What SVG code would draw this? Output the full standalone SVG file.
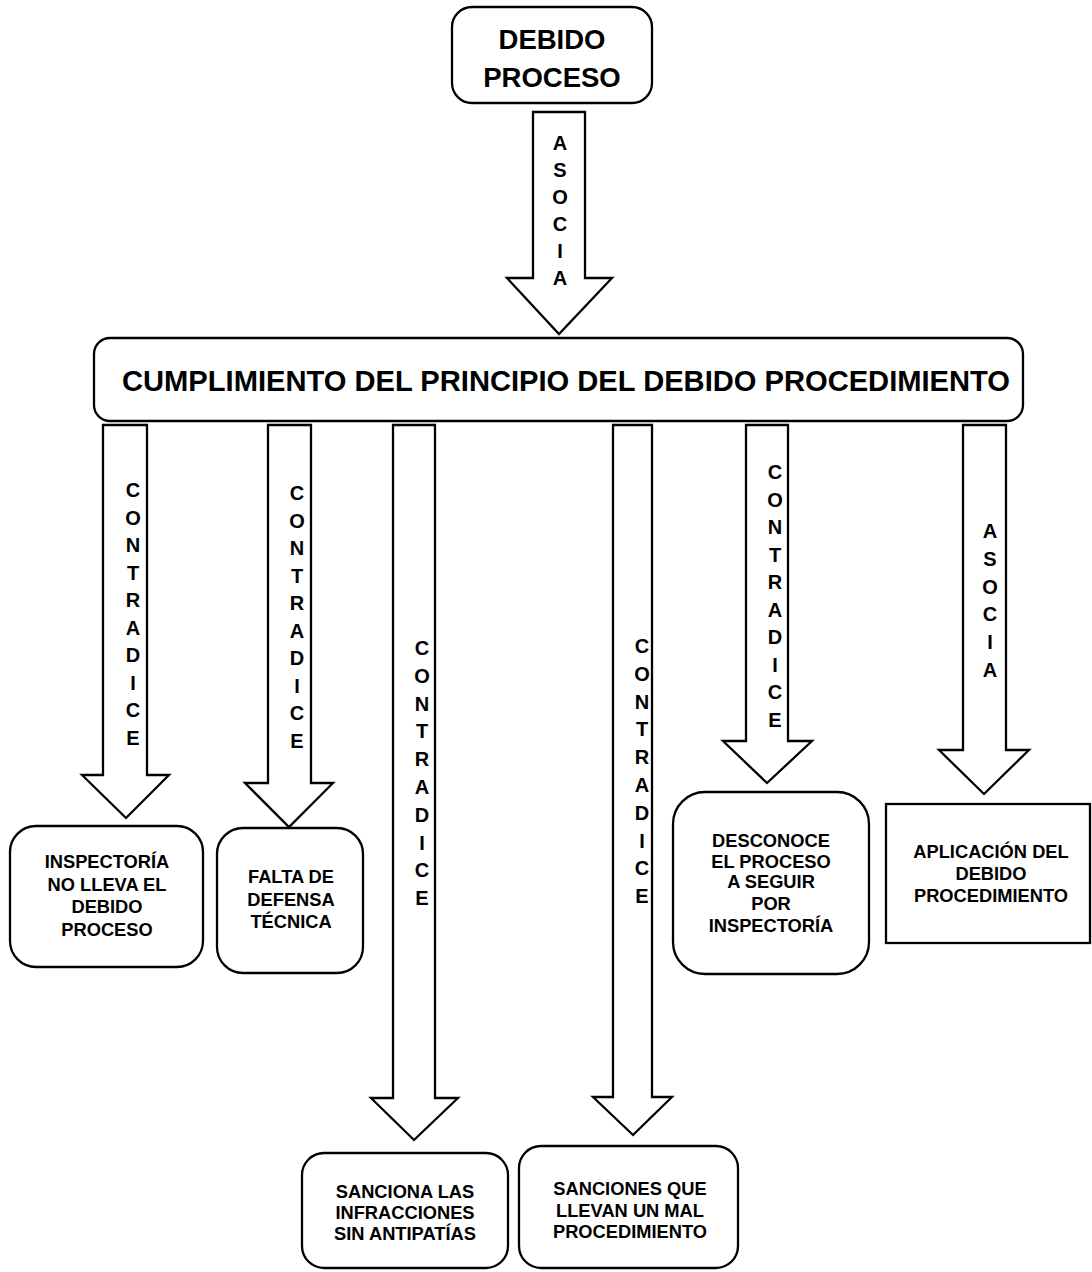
<svg xmlns="http://www.w3.org/2000/svg" width="1092" height="1272" viewBox="0 0 1092 1272">
<style>
.box{fill:#fff;stroke:#000;stroke-width:2.3}
.arr{fill:#fff;stroke:#000;stroke-width:2.3;stroke-linejoin:miter}
text{font-family:"Liberation Sans",Arial,sans-serif;font-weight:bold;fill:#000;text-anchor:middle}
.t{font-size:18.3px}
.v{font-size:20px}
</style>
<rect width="1092" height="1272" fill="#fff"/>
<g id="connectors">
<polygon class="arr" points="533,112 585,112 585,278 612,278 559,334 507,278 533,278"/>
<polygon class="arr" points="103,425 147,425 147,775 169,775 126,818 82,775 103,775"/>
<polygon class="arr" points="268,425 311,425 311,783 333,783 289,827 245,783 268,783"/>
<polygon class="arr" points="393,425 435,425 435,1098 458,1098 414,1140 371,1098 393,1098"/>
<polygon class="arr" points="613,425 652,425 652,1097 672,1097 633,1135 593,1097 613,1097"/>
<polygon class="arr" points="746,425 788,425 788,741 812,741 767,783 723,741 746,741"/>
<polygon class="arr" points="963,425 1006,425 1006,750 1029,750 984,794 939,750 963,750"/>
<text class="v"><tspan x="560" y="150">A</tspan><tspan x="560" y="177">S</tspan><tspan x="560" y="204">O</tspan><tspan x="560" y="231">C</tspan><tspan x="560" y="258">I</tspan><tspan x="560" y="285">A</tspan></text>
<text class="v"><tspan x="133" y="497">C</tspan><tspan x="133" y="524.5">O</tspan><tspan x="133" y="552">N</tspan><tspan x="133" y="579.5">T</tspan><tspan x="133" y="607">R</tspan><tspan x="133" y="634.5">A</tspan><tspan x="133" y="662">D</tspan><tspan x="133" y="689.5">I</tspan><tspan x="133" y="717">C</tspan><tspan x="133" y="744.5">E</tspan></text>
<text class="v"><tspan x="297" y="500">C</tspan><tspan x="297" y="527.5">O</tspan><tspan x="297" y="555">N</tspan><tspan x="297" y="582.5">T</tspan><tspan x="297" y="610">R</tspan><tspan x="297" y="637.5">A</tspan><tspan x="297" y="665">D</tspan><tspan x="297" y="692.5">I</tspan><tspan x="297" y="720">C</tspan><tspan x="297" y="747.5">E</tspan></text>
<text class="v"><tspan x="422" y="655">C</tspan><tspan x="422" y="682.8">O</tspan><tspan x="422" y="710.6">N</tspan><tspan x="422" y="738.4">T</tspan><tspan x="422" y="766.2">R</tspan><tspan x="422" y="794">A</tspan><tspan x="422" y="821.8">D</tspan><tspan x="422" y="849.6">I</tspan><tspan x="422" y="877.4">C</tspan><tspan x="422" y="905.2">E</tspan></text>
<text class="v"><tspan x="642" y="653">C</tspan><tspan x="642" y="680.8">O</tspan><tspan x="642" y="708.6">N</tspan><tspan x="642" y="736.4">T</tspan><tspan x="642" y="764.2">R</tspan><tspan x="642" y="792">A</tspan><tspan x="642" y="819.8">D</tspan><tspan x="642" y="847.6">I</tspan><tspan x="642" y="875.4">C</tspan><tspan x="642" y="903.2">E</tspan></text>
<text class="v"><tspan x="775" y="479">C</tspan><tspan x="775" y="506.5">O</tspan><tspan x="775" y="534">N</tspan><tspan x="775" y="561.5">T</tspan><tspan x="775" y="589">R</tspan><tspan x="775" y="616.5">A</tspan><tspan x="775" y="644">D</tspan><tspan x="775" y="671.5">I</tspan><tspan x="775" y="699">C</tspan><tspan x="775" y="726.5">E</tspan></text>
<text class="v"><tspan x="990" y="538">A</tspan><tspan x="990" y="565.8">S</tspan><tspan x="990" y="593.6">O</tspan><tspan x="990" y="621.4">C</tspan><tspan x="990" y="649.2">I</tspan><tspan x="990" y="677">A</tspan></text>
</g>
<g id="n-debido-proceso">
<rect class="box" x="452" y="7" width="200" height="96" rx="20"/>
<text style="font-size:27.5px"><tspan x="552" y="49">DEBIDO</tspan><tspan x="552" y="87">PROCESO</tspan></text>
</g>
<g id="n-cumplimiento">
<rect class="box" x="94" y="338" width="929" height="83" rx="16"/>
<text x="566" y="391" style="font-size:29px" textLength="888" lengthAdjust="spacingAndGlyphs">CUMPLIMIENTO DEL PRINCIPIO DEL DEBIDO PROCEDIMIENTO</text>
</g>
<g id="n-inspectoria">
<rect class="box" x="10" y="826" width="193" height="141" rx="26"/>
<text class="t"><tspan x="107" y="868">INSPECTORÍA</tspan><tspan x="107" y="890.5">NO LLEVA EL</tspan><tspan x="107" y="913">DEBIDO</tspan><tspan x="107" y="935.5">PROCESO</tspan></text>
</g>
<g id="n-falta">
<rect class="box" x="217" y="828" width="146" height="145" rx="26"/>
<text class="t"><tspan x="291" y="883">FALTA DE</tspan><tspan x="291" y="905.5">DEFENSA</tspan><tspan x="291" y="928">TÉCNICA</tspan></text>
</g>
<g id="n-sanciona">
<rect class="box" x="302" y="1153" width="206" height="115" rx="22"/>
<text class="t"><tspan x="405" y="1198">SANCIONA LAS</tspan><tspan x="405" y="1219">INFRACCIONES</tspan><tspan x="405" y="1240">SIN ANTIPATÍAS</tspan></text>
</g>
<g id="n-sanciones">
<rect class="box" x="519" y="1146" width="219" height="122" rx="22"/>
<text class="t"><tspan x="630" y="1195">SANCIONES QUE</tspan><tspan x="630" y="1216.5">LLEVAN UN MAL</tspan><tspan x="630" y="1238">PROCEDIMIENTO</tspan></text>
</g>
<g id="n-desconoce">
<rect class="box" x="673" y="792" width="196" height="182" rx="32"/>
<text class="t"><tspan x="771" y="847">DESCONOCE</tspan><tspan x="771" y="868">EL PROCESO</tspan><tspan x="771" y="888">A SEGUIR</tspan><tspan x="771" y="910">POR</tspan><tspan x="771" y="932">INSPECTORÍA</tspan></text>
</g>
<g id="n-aplicacion">
<rect class="box" x="886" y="804" width="204" height="139"/>
<text class="t"><tspan x="991" y="858">APLICACIÓN DEL</tspan><tspan x="991" y="880">DEBIDO</tspan><tspan x="991" y="902">PROCEDIMIENTO</tspan></text>
</g>
</svg>
